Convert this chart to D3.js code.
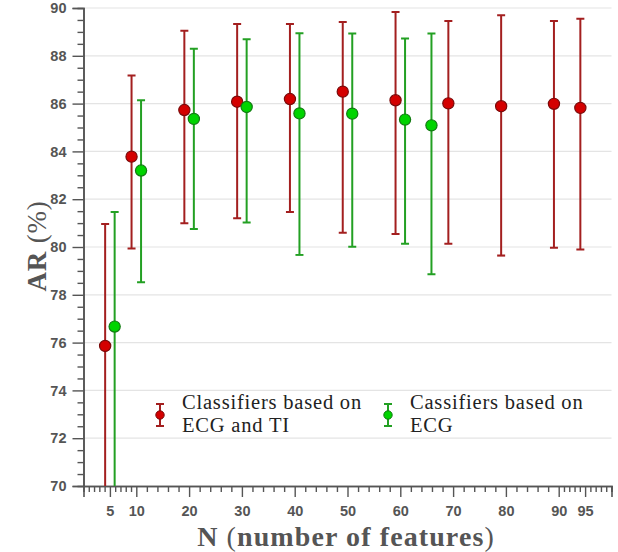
<!DOCTYPE html>
<html>
<head>
<meta charset="utf-8">
<script src="https://cdnjs.cloudflare.com/ajax/libs/d3/7.8.5/d3.min.js"></script>
<style>
body{margin:0;background:#fff;}
svg{display:block;}
</style>
</head>
<body>
<div id="chart"></div>
<script>
var width = 618,
	height = 552,
	margin = {left:83.5, right:6.5, top:8, bottom:66};

// ECG and TI
var ecgTiN    = [5, 10, 20, 30, 40, 50, 60, 70, 80, 90, 95];
var ecgTiMean = [75.86, 83.78, 85.73, 86.08, 86.19, 86.5, 86.14, 86.01, 85.89, 85.99, 85.82];
var ecgTiHigh = [80.96, 87.18, 89.05, 89.33, 89.33, 89.41, 89.83, 89.46, 89.7, 89.46, 89.55];
var ecgTiLow  = [69.0, 79.94, 80.99, 81.2, 81.46, 80.6, 80.54, 80.14, 79.64, 79.97, 79.9];

// ECG only
var ecgN    = [5, 10, 20, 30, 40, 50, 60, 65];
var ecgMean = [76.67, 83.2, 85.36, 85.86, 85.59, 85.58, 85.33, 85.09];
var ecgHigh = [81.46, 86.14, 88.3, 88.69, 88.94, 88.93, 88.72, 88.93];
var ecgLow  = [69.0, 78.52, 80.75, 81.02, 79.67, 80.01, 80.14, 78.86];

var xTickLabels = [5, 10, 20, 30, 40, 50, 60, 70, 80, 90, 95];
var yTickLabels = [70, 72, 74, 76, 78, 80, 82, 84, 86, 88, 90];

var seriesInfo = [
	{name:["Classifiers based on", "ECG and TI"], n:ecgTiN, mean:ecgTiMean, hi:ecgTiHigh, lo:ecgTiLow,
	 dodge:-0.9, bar:"#a31f1f", fill:"#d40000", stroke:"#7a0a0a", lx:160},
	{name:["Cassifiers based on", "ECG"], n:ecgN, mean:ecgMean, hi:ecgHigh, lo:ecgLow,
	 dodge:0.9, bar:"#23a023", fill:"#00d400", stroke:"#137a13", lx:388}
];

var serif = "Liberation Serif, Times New Roman, serif";

var x = d3.scaleLinear().domain([0, 100]).range([margin.left, width - margin.right]);
var y = d3.scaleLinear().domain([70, 90]).range([height - margin.bottom, margin.top]);

var svg = d3.select("#chart").append("svg").attr("width", width).attr("height", height);

svg.append("clipPath").attr("id", "plotclip").append("rect")
	.attr("x", x(0)).attr("y", y(90) - 2)
	.attr("width", x(100) - x(0)).attr("height", y(70) - y(90) + 2);

//grid
svg.append("g").selectAll("line").data(yTickLabels.filter(function(d){return d > 70;}))
	.enter().append("line")
	.attr("x1", x(0)).attr("x2", x(100))
	.attr("y1", function(d){return y(d);}).attr("y2", function(d){return y(d);})
	.attr("stroke", "#e4e4e4").attr("stroke-width", 1.2);

//axes
var axisColor = "#555";
var yMinor = d3.range(70, 90.01, 0.5).filter(function(d){return d % 2 != 0;});
var xMinor = d3.range(1, 10).concat(d3.range(12, 90, 2)).concat(d3.range(91, 101))
	.filter(function(d){return xTickLabels.indexOf(d) < 0;});

svg.append("g").attr("transform", "translate(" + x(0) + ",0)")
	.call(d3.axisLeft(y).tickValues(yTickLabels).tickSize(11).tickPadding(6).tickFormat(d3.format("d")));
svg.append("g").attr("transform", "translate(" + x(0) + ",0)")
	.call(d3.axisLeft(y).tickValues(yMinor).tickSize(6).tickFormat(""));

svg.append("g").attr("transform", "translate(0," + y(70) + ")")
	.call(d3.axisBottom(x).tickValues(xTickLabels).tickSize(11).tickPadding(9).tickFormat(d3.format("d")));
svg.append("g").attr("transform", "translate(0," + y(70) + ")")
	.call(d3.axisBottom(x).tickValues(xMinor).tickSize(6).tickFormat(""));

svg.selectAll(".domain").attr("stroke", axisColor).attr("stroke-width", 1.6);
svg.selectAll(".tick line").attr("stroke", axisColor).attr("stroke-width", 1.4);
svg.selectAll(".tick text").attr("fill", "#555").attr("font-family", "Liberation Sans, Arial, sans-serif")
	.attr("font-weight", "bold").attr("font-size", "14.5px");

//error bars and points
var capW = 4;
var plot = svg.append("g").attr("clip-path", "url(#plotclip)");
seriesInfo.forEach(function(s){
	var rows = s.n.map(function(n, i){return {n:n, m:s.mean[i], hi:s.hi[i], lo:s.lo[i]};});
	var g = plot.append("g");
	var eb = g.selectAll("g.eb").data(rows).enter().append("g").attr("class", "eb")
		.attr("stroke", s.bar).attr("stroke-width", 2);
	eb.append("line")
		.attr("x1", function(d){return x(d.n + s.dodge);}).attr("x2", function(d){return x(d.n + s.dodge);})
		.attr("y1", function(d){return y(d.hi);}).attr("y2", function(d){return y(d.lo);});
	eb.append("line")
		.attr("x1", function(d){return x(d.n + s.dodge) - capW;}).attr("x2", function(d){return x(d.n + s.dodge) + capW;})
		.attr("y1", function(d){return y(d.hi);}).attr("y2", function(d){return y(d.hi);});
	eb.append("line")
		.attr("x1", function(d){return x(d.n + s.dodge) - capW;}).attr("x2", function(d){return x(d.n + s.dodge) + capW;})
		.attr("y1", function(d){return y(d.lo);}).attr("y2", function(d){return y(d.lo);});
	g.selectAll("circle").data(rows).enter().append("circle")
		.attr("cx", function(d){return x(d.n + s.dodge);})
		.attr("cy", function(d){return y(d.m);})
		.attr("r", 5.6)
		.attr("fill", s.fill).attr("stroke", s.stroke).attr("stroke-width", 1.2);
});

//legend
var legend = svg.append("g");
seriesInfo.forEach(function(s){
	var lg = legend.append("g");
	lg.append("line").attr("x1", s.lx).attr("x2", s.lx).attr("y1", 404).attr("y2", 426)
		.attr("stroke", s.bar).attr("stroke-width", 2);
	lg.append("line").attr("x1", s.lx - 4).attr("x2", s.lx + 4).attr("y1", 404).attr("y2", 404)
		.attr("stroke", s.bar).attr("stroke-width", 2);
	lg.append("line").attr("x1", s.lx - 4).attr("x2", s.lx + 4).attr("y1", 426).attr("y2", 426)
		.attr("stroke", s.bar).attr("stroke-width", 2);
	lg.append("circle").attr("cx", s.lx).attr("cy", 415).attr("r", 4.2)
		.attr("fill", s.fill).attr("stroke", s.stroke).attr("stroke-width", 1);
	var t = lg.append("text").attr("y", 409)
		.attr("font-family", serif).attr("font-size", "20.5px").attr("letter-spacing", "0.8px").attr("fill", "#222");
	t.selectAll("tspan").data(s.name).enter().append("tspan")
		.attr("x", s.lx + 22).attr("dy", function(d, i){return i ? 23 : 0;})
		.text(function(d){return d;});
});

//axis titles
var xt = svg.append("text").attr("x", 346).attr("y", 546).attr("text-anchor", "middle")
	.attr("font-family", serif).attr("font-size", "28px").attr("letter-spacing", "1.1px").attr("fill", "#555");
xt.append("tspan").attr("font-weight", "bold").text("N ");
xt.append("tspan").text("(");
xt.append("tspan").attr("font-weight", "bold").text("number of features");
xt.append("tspan").text(")");

var yt = svg.append("text").attr("transform", "translate(46,246) rotate(-90)").attr("text-anchor", "middle")
	.attr("font-family", serif).attr("font-size", "27px").attr("letter-spacing", "0.8px").attr("fill", "#555");
yt.append("tspan").attr("font-weight", "bold").text("AR ");
yt.append("tspan").text("(%)");
</script>
</body>
</html>
